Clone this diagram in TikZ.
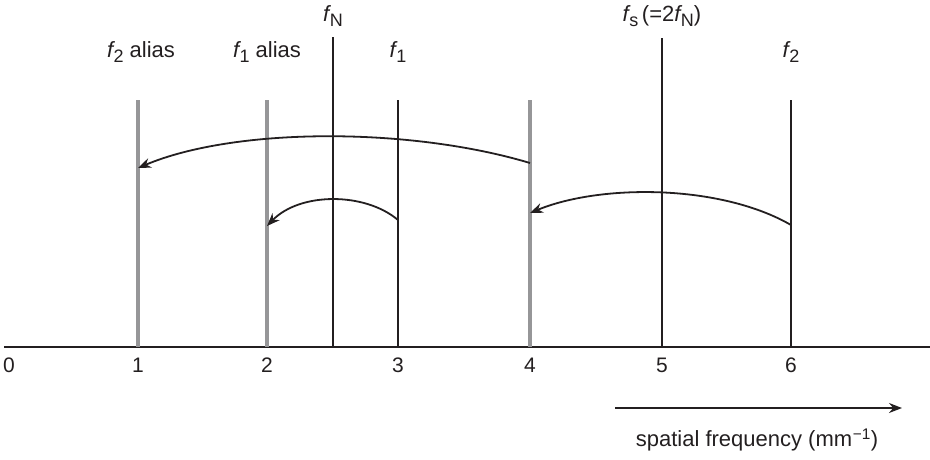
\documentclass[tikz,border=0pt]{standalone}
\usepackage{fontspec}
\setmainfont{Liberation Sans}
\usetikzlibrary{arrows.meta}
\definecolor{aliasgrey}{RGB}{150,150,152}
\definecolor{ink}{RGB}{35,31,32}
\newcommand{\fsym}[1]{{\itshape f}\kern0.5pt\raisebox{-0.45ex}{\fontsize{18}{18}\selectfont #1}}
\begin{document}
\begin{tikzpicture}[x=1pt,y=-1pt,
  freq/.style={draw=ink,line width=2pt},
  alias/.style={draw=aliasgrey,line width=4.8pt},
  arc/.style={draw=ink,line width=1.8pt,-{Stealth[length=13pt,width=10pt]}},
  lbl/.style={inner sep=0pt,font=\fontsize{22}{26}\selectfont,text=ink},
  tick/.style={inner sep=0pt,font=\fontsize{21}{24}\selectfont,text=ink}]
\useasboundingbox (0,0) rectangle (930,459);
% axis
\coordinate (axL) at (4,347);
\coordinate (axR) at (930,347);
\draw[draw=ink,line width=2pt] (axL) -- (axR);
% line bottoms and tops
\coordinate (b1) at (138,347);  \coordinate (t1) at (138,100);
\coordinate (b2) at (267,347);  \coordinate (t2) at (267,100);
\coordinate (bN) at (333,347);  \coordinate (tN) at (333,37);
\coordinate (b3) at (398,347);  \coordinate (t3) at (398,100);
\coordinate (b4) at (530,347);  \coordinate (t4) at (530,100);
\coordinate (b5) at (662,347);  \coordinate (t5) at (662,38);
\coordinate (b6) at (791,347);  \coordinate (t6) at (791,100);
\draw[alias] (b1) -- (t1);
\draw[alias] (b2) -- (t2);
\draw[alias] (b4) -- (t4);
\draw[freq] (bN) -- (tN);
\draw[freq] (b3) -- (t3);
\draw[freq] (b5) -- (t5);
\draw[freq] (b6) -- (t6);
% tick labels
\node[tick] (n0) at (9,365) {0};
\node[tick] (n1) at (138,365) {1};
\node[tick] (n2) at (267,365) {2};
\node[tick] (n3) at (398,365) {3};
\node[tick] (n4) at (530,365) {4};
\node[tick] (n5) at (662,365) {5};
\node[tick] (n6) at (791,365) {6};
% top labels
\node[lbl,anchor=base] (lN) at (333,21) {\fsym{N}};
\node[lbl,anchor=base] (l5) at (662,21) {\fsym{s}\,(=2\fsym{N})};
\node[lbl,anchor=base] (la2) at (141,57) {\fsym{2} alias};
\node[lbl,anchor=base] (la1) at (267,57) {\fsym{1} alias};
\node[lbl,anchor=base] (l3) at (398,57) {\fsym{1}};
\node[lbl,anchor=base] (l6) at (791,57) {\fsym{2}};
% aliasing arcs
\coordinate (s1) at (530,163); \coordinate (e1) at (138,168);
\coordinate (s2) at (791,225); \coordinate (e2) at (530,213);
\coordinate (s3) at (398,220); \coordinate (e3) at (267,226);
\draw[arc] (s1) .. controls (410,127) and (235,127) .. (e1);
\draw[arc] (s2) .. controls (720,184) and (600,184) .. (e2);
\draw[arc] (s3) .. controls (365,192) and (300,192) .. (e3);
% direction arrow
\coordinate (dA) at (615,408); \coordinate (dB) at (902,408);
\draw[draw=ink,line width=1.8pt,-{Stealth[length=13pt,width=10pt]}] (dA) -- (dB);
\node[lbl] (sf) at (757,440) {spatial frequency (mm\textsuperscript{\kern0.5pt−1})};
\end{tikzpicture}
\end{document}
